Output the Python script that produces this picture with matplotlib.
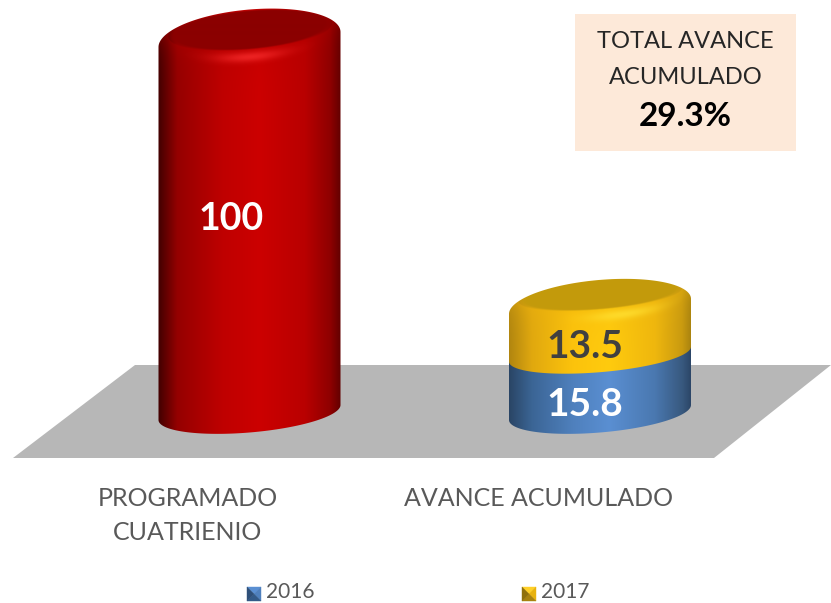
import numpy as np
import matplotlib
matplotlib.use("Agg")
import matplotlib.pyplot as plt
from matplotlib.patches import Polygon, Rectangle

categories = ["PROGRAMADO\nCUATRIENIO", "AVANCE ACUMULADO"]
programado = [100]
avance_2016 = [15.8]
avance_2017 = [13.5]
series_names = ["2016", "2017"]
total_label = ["TOTAL AVANCE", "ACUMULADO"]
total_value = "29.3%"

W, H = 831, 603
plt.rcParams["font.family"] = ["Lato", "DejaVu Sans"]
fig = plt.figure(figsize=(W / 100, H / 100), dpi=100)

# pixel-space helper axes
bg = fig.add_axes([0, 0, 1, 1], zorder=0)
bg.set_xlim(0, W); bg.set_ylim(H, 0); bg.axis("off")
top = fig.add_axes([0, 0, 1, 1], zorder=2)
top.set_xlim(0, W); top.set_ylim(H, 0); top.axis("off")

# chart axes: x = category index, y = value
PX_X, PX_Y = 350.5, 3.69
X0, Y0 = 249.5, 412.5
ax = fig.add_axes([0, 0, 1, 1], zorder=1)
ax.patch.set_alpha(0)
ax.axis("off")
xlim = (-X0 / PX_X, (W - X0) / PX_X)
ylim = ((Y0 - H) / PX_Y, Y0 / PX_Y)


def to_dx(px):
    return (px - X0) / PX_X


def to_dy(py):
    return (Y0 - py) / PX_Y


def grad(stops, u):
    pos = [p for p, _ in stops]
    cols = np.array([matplotlib.colors.to_rgb(c) for _, c in stops])
    return np.stack([np.interp(u, pos, cols[:, i]) for i in range(3)], axis=-1)


A, S = 91.0, 15 / 182


def silhouette(cx, y_low, b_low, y_up, b_up):
    t1 = np.linspace(np.pi, 0, 100)
    t2 = np.linspace(0, -np.pi, 100)
    xs = np.r_[cx + A * np.cos(t1), cx + A * np.cos(t2)]
    ys = np.r_[y_low - S * A * np.cos(t1) + b_low * np.sin(t1),
               y_up - S * A * np.cos(t2) + b_up * np.sin(t2)]
    return np.c_[to_dx(xs), to_dy(ys)]


def segment(idx, v0, v1, stops, cap=None, b_low=20.0, z=2):
    cx = X0 + idx * PX_X
    y_low = Y0 - v0 * PX_Y
    y_up = Y0 - v1 * PX_Y
    b_up = 20.0
    if cap:
        y_up -= cap["lift"]
        b_up = cap["b_up"]
    x0, x1 = cx - A - 2, cx + A + 2
    y0 = y_up - 45
    y1 = y_low + 45
    xx, yy = np.meshgrid(np.arange(x0, x1, 0.5), np.arange(y0, y1, 0.5))
    u = np.clip((xx - cx) / A, -1, 1)
    img = grad(stops, u)
    if cap:
        yun = yy + S * (xx - cx)  # remove the tilt
        fb, fa = cap["b"], cap["a"]
        fy = y_up + cap["dy"]
        r = np.sqrt(((xx - cx) / fa) ** 2 + ((yun - fy) / fb) ** 2)
        # bevel band below the face: follows the lower rim and fades into the body
        rim_y = fy + fb * np.sqrt(np.clip(1 - ((xx - cx) / fa) ** 2, 0, 1))
        dist = np.clip(yun - rim_y, 0, None)
        # dim shoulder just around the face, fading into the body colour
        shoulder = np.exp(-dist / 14.0) * (r > 1) * 0.35
        rimc = np.array(matplotlib.colors.to_rgb(cap["rim"]))
        img = img * (1 - shoulder[..., None]) + rimc * shoulder[..., None]
        # bright streak sitting a little below the rim
        streak = np.exp(-((dist - cap["sd"]) / 5.0) ** 2) * np.exp(-((u - cap["hx"]) / 0.38) ** 2) * 0.8
        hi = np.array(matplotlib.colors.to_rgb(cap["hi"]))
        img = img * (1 - streak[..., None]) + hi * streak[..., None]
        face = np.array(matplotlib.colors.to_rgb(cap["face"]))
        edge = np.clip((1 - r) / 0.08, 0, 1)[..., None]
        img = img * (1 - edge) + face * edge
    im = ax.imshow(img, extent=(to_dx(x0), to_dx(x1), to_dy(y1), to_dy(y0)),
                   origin="upper", aspect="auto", zorder=z, interpolation="bilinear")
    poly = Polygon(silhouette(cx, y_low, b_low, y_up, b_up), closed=True,
                   transform=ax.transData, facecolor="none", edgecolor="none")
    ax.add_patch(poly)
    im.set_clip_path(poly)


red = [(-1, "#450000"), (-0.8, "#950000"), (-0.3, "#bf0000"), (0.1, "#cc0000"),
       (0.6, "#b90000"), (0.88, "#8e0000"), (1, "#600000")]
blue = [(-1, "#2a4565"), (-0.75, "#3b6595"), (-0.3, "#4f80bd"), (0.1, "#5a8fd2"),
        (0.6, "#4a78b0"), (0.9, "#38597f"), (1, "#2b4566")]
yellow = [(-1, "#b08510"), (-0.75, "#e0a80f"), (-0.3, "#fcc30c"), (0.1, "#ffcb0e"),
          (0.6, "#efb70e"), (0.9, "#c99a10"), (1, "#a8820f")]

# floor
bg.add_patch(Polygon([(135, 365), (831, 365), (714, 458), (13, 458)], closed=True,
                     facecolor="#b7b7b7", edgecolor="none"))

# bars
segment(0, 0, programado[0], red,
        cap=dict(lift=4, b_up=30, a=82, b=20, dy=-10, face="#8b0000", rim="#b00000",
                 hi="#f52a2a", hx=0.0, sd=7), z=2)
segment(1, 0, avance_2016[0], blue, z=2)
segment(1, avance_2016[0], avance_2016[0] + avance_2017[0], yellow, b_low=18.0,
        cap=dict(lift=-2, b_up=26.5, a=82, b=15.5, dy=-12, face="#c49a0c", rim="#eeb30c",
                 hi="#ffdf30", hx=0.25, sd=7), z=3)

ax.set_xlim(*xlim)
ax.set_ylim(*ylim)

# value labels
top.text(231, 219, f"{programado[0]}", color="white", fontsize=27, fontweight="bold",
         ha="center", va="center")
top.text(585, 347, f"{avance_2017[0]}", color="#404040", fontsize=28, fontweight="bold",
         ha="center", va="center")
top.text(585, 405, f"{avance_2016[0]}", color="white", fontsize=28, fontweight="bold",
         ha="center", va="center")

# summary box
top.add_patch(Rectangle((575, 14), 221, 137, facecolor="#fde9d9", edgecolor="none"))
top.text(685.5, 42, total_label[0], color="#262626", fontsize=17, ha="center", va="center")
top.text(685.5, 77, total_label[1], color="#262626", fontsize=17, ha="center", va="center")
top.text(685.5, 116, total_value, color="black", fontsize=24, fontweight="bold",
         ha="center", va="center")

# category labels
l1, l2 = categories[0].split("\n")
top.text(188, 498, l1, color="#595959", fontsize=18, ha="center", va="center")
top.text(188, 533, l2, color="#595959", fontsize=18, ha="center", va="center")
top.text(538, 498, categories[1], color="#595959", fontsize=18, ha="center", va="center")


# legend
def bevel_key(x, y, s, cols):
    c = (x + s / 2, y + s / 2)
    corners = [(x, y), (x + s, y), (x + s, y + s), (x, y + s)]
    for i, col in enumerate(cols):
        top.add_patch(Polygon([corners[i], corners[(i + 1) % 4], c], closed=True,
                              facecolor=col, edgecolor=col, lw=0.3))


bevel_key(247, 587, 14, ["#5a8fd2", "#4f80bd", "#335a88", "#2f5079"])
bevel_key(522, 587, 14, ["#ffd028", "#e8b20e", "#a8820f", "#8f700c"])
top.text(266, 592.5, series_names[0], color="#595959", fontsize=15, ha="left", va="center")
top.text(541, 592.5, series_names[1], color="#595959", fontsize=15, ha="left", va="center")

fig.savefig("out.png", dpi=100, facecolor="white")
